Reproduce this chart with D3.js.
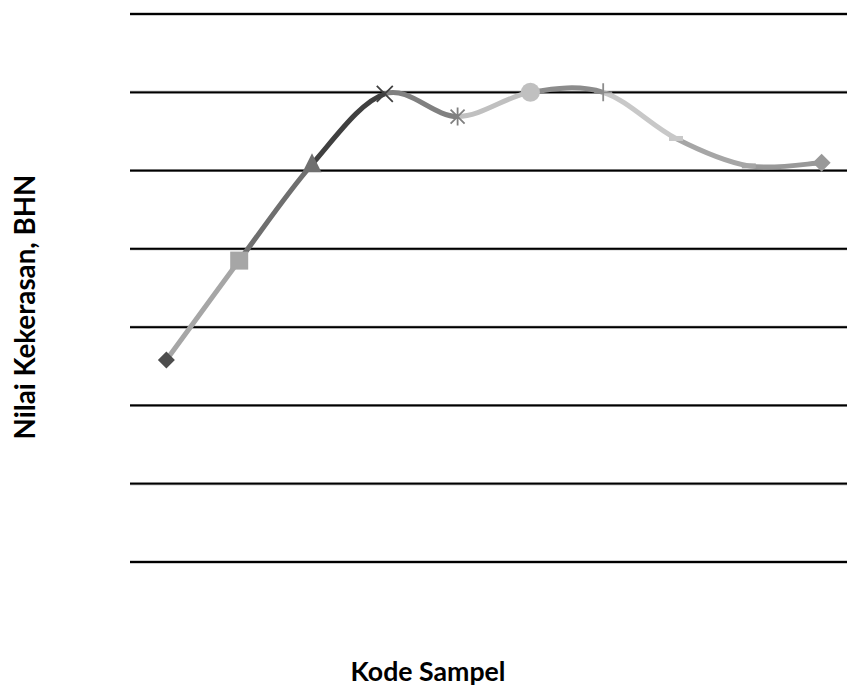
<!DOCTYPE html>
<html><head><meta charset="utf-8">
<script src="https://cdn.jsdelivr.net/npm/d3@7"></script>
<style>body{margin:0;background:#fff;overflow:hidden}</style>
</head><body>
<svg id="c" width="847" height="687"></svg>
<script>
const categories = ["1","2","3","4","5","6","7","8","9","10"];
const values = [25.8, 38.5, 50.8, 59.8, 56.9, 60.0, 60.0, 54.1, 50.6, 51.0];
const yTicks = [0,10,20,30,40,50,60,70];
const markerTypes = ["diamond","square","triangle","x","star","circle","plus","dash","dash","diamond"];
const pointColors = ["#4d4d4d","#a6a6a6","#6f6f6f","#404040","#808080","#c0c0c0","#8c8c8c","#c8c8c8","#a6a6a6","#999999"];

const svg = d3.select("#c");
const m = {left:130, right:858, top:14, bottom:562};
const x = d3.scalePoint().domain(categories).range([m.left, m.right]).padding(0.5);
const y = d3.scaleLinear().domain([0,70]).range([m.bottom, m.top]);

// gridlines
svg.append("g").selectAll("line").data(yTicks).join("line")
  .attr("x1", m.left).attr("x2", m.right)
  .attr("y1", d=>y(d)).attr("y2", d=>y(d))
  .attr("stroke","#9a9a9a").attr("stroke-width",3);
svg.append("g").selectAll("line").data(yTicks).join("line")
  .attr("x1", m.left).attr("x2", m.right)
  .attr("y1", d=>y(d)).attr("y2", d=>y(d))
  .attr("stroke","#000").attr("stroke-width",1.8);

const pts = categories.map((c,i)=>[x(c), y(values[i])]);
// smoothed segments, each coloured by the point it ends at
const gSeg = svg.append("g");
for (let i=0;i<pts.length-1;i++){
  const p0 = pts[Math.max(0,i-1)], p1 = pts[i], p2 = pts[i+1], p3 = pts[Math.min(pts.length-1,i+2)];
  const c1 = [p1[0]+(p2[0]-p0[0])/6, p1[1]+(p2[1]-p0[1])/6];
  const c2 = [p2[0]-(p3[0]-p1[0])/6, p2[1]-(p3[1]-p1[1])/6];
  const p = d3.path();
  p.moveTo(p1[0],p1[1]);
  p.bezierCurveTo(c1[0],c1[1],c2[0],c2[1],p2[0],p2[1]);
  gSeg.append("path").attr("d",p.toString()).attr("fill","none")
    .attr("stroke",pointColors[i+1]).attr("stroke-width",5).attr("stroke-linecap","butt");
}

// markers
const gM = svg.append("g");
pts.forEach((pt,i)=>{
  const [cx,cy]=pt, col=pointColors[i], t=markerTypes[i];
  const g = gM.append("g").attr("transform",`translate(${cx},${cy})`);
  if (t==="diamond"){
    const s = i===0?8.5:9;
    g.append("path").attr("d",`M0,${-s}L${s},0L0,${s}L${-s},0Z`).attr("fill",col);
  } else if (t==="square"){
    g.append("rect").attr("x",-9).attr("y",-9).attr("width",18).attr("height",18).attr("fill",col);
  } else if (t==="triangle"){
    g.append("path").attr("d","M0,-11L9.5,8L-9.5,8Z").attr("fill",col);
  } else if (t==="x"){
    g.append("path").attr("d","M-8,-8L8,8M-8,8L8,-8").attr("stroke",col).attr("stroke-width",1.8);
  } else if (t==="star"){
    g.append("path").attr("d","M-7,-7L7,7M-7,7L7,-7M0,-9L0,9").attr("stroke",col).attr("stroke-width",1.8);
  } else if (t==="circle"){
    g.append("circle").attr("r",9.5).attr("fill",col);
  } else if (t==="plus"){
    g.append("path").attr("d","M0,-9L0,9M-9,0L9,0").attr("stroke",col).attr("stroke-width",1.8);
  } else if (t==="dash"){
    g.append("rect").attr("x",-7).attr("y",-2.5).attr("width",14).attr("height",5).attr("fill",col);
  }
});

// axis titles
function fit(sel, target){
  const len = sel.node().getComputedTextLength();
  const fs = parseFloat(sel.attr("font-size"));
  sel.attr("font-size", fs*target/len);
}
const xt = svg.append("text").text("Kode Sampel").attr("x",428).attr("y",681)
  .attr("text-anchor","middle").attr("font-family","Lato, 'Open Sans', sans-serif")
  .attr("font-weight","bold").attr("font-size",20).attr("fill","#000");
fit(xt,155);
const yt = svg.append("text").text("Nilai Kekerasan, BHN")
  .attr("transform","translate(35,307) rotate(-90)")
  .attr("text-anchor","middle").attr("font-family","Lato, 'Open Sans', sans-serif")
  .attr("font-weight","bold").attr("font-size",18).attr("fill","#000");
fit(yt,265);
</script>
</body></html>
